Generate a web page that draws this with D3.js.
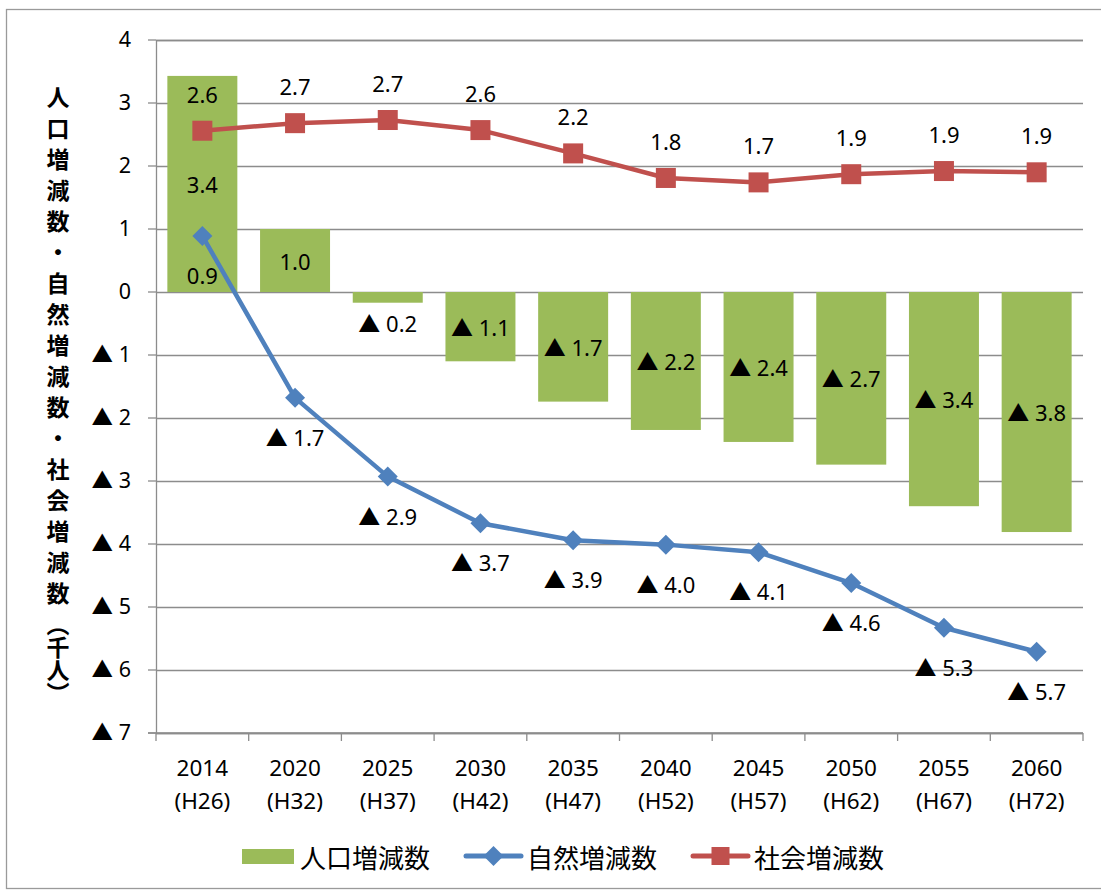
<!DOCTYPE html>
<html>
<head>
<meta charset="utf-8">
<script src="https://cdn.jsdelivr.net/npm/d3@7"></script>
<style>
  body { margin: 0; background: #fff; }
  svg text { font-family: "Noto Sans", "Noto Sans CJK JP", sans-serif; fill: #000; }
  .jp { font-family: "Noto Sans CJK JP", sans-serif; }
</style>
</head>
<body>
<div id="chart"></div>
<script>
// years and era labels on the x axis
const years = ["2014", "2020", "2025", "2030", "2035", "2040", "2045", "2050", "2055", "2060"];
const eras = ["(H26)", "(H32)", "(H37)", "(H42)", "(H47)", "(H52)", "(H57)", "(H62)", "(H67)", "(H72)"];

// 人口増減数 (bars), 自然増減数 (blue), 社会増減数 (red), thousand people
const popChange = [3.43, 1.0, -0.17, -1.1, -1.74, -2.19, -2.38, -2.74, -3.4, -3.81];
const naturalChange = [0.89, -1.68, -2.93, -3.67, -3.94, -4.01, -4.13, -4.62, -5.33, -5.71];
const socialChange = [2.56, 2.68, 2.73, 2.57, 2.2, 1.81, 1.74, 1.87, 1.92, 1.9];

const yTicks = [4, 3, 2, 1, 0, -1, -2, -3, -4, -5, -6, -7];
const yTitle = ["人口増減数・自然増減数・社会増減数", "（千人）"];
const legendNames = ["人口増減数", "自然増減数", "社会増減数"];

const width = 1101, height = 890;
const margin = ({top: 40, right: 18, bottom: 157, left: 156});

const green = "#9BBB59", blue = "#4F81BD", red = "#C0504D", grid = "#8C8C8C";

const fmt = v => (v < 0 ? "▲ " : "") + Math.abs(v).toFixed(1);

const svg = d3.select("#chart")
    .append("svg")
    .attr("width", width)
    .attr("height", height);

// chart frame
svg.append("rect")
    .attr("x", 6.5).attr("y", 9.5)
    .attr("width", width + 10).attr("height", height - 11)
    .attr("fill", "none")
    .attr("stroke", "#9a9a9a")
    .attr("stroke-width", 1.3);

const x = d3.scaleBand()
    .domain(years)
    .range([margin.left, width - margin.right])
    .paddingInner(0.245)
    .paddingOuter(0.1225);

const xc = d3.scalePoint()
    .domain(years)
    .range([margin.left, width - margin.right])
    .padding(0.5);

const y = d3.scaleLinear()
    .domain([-7, 4])
    .range([height - margin.bottom, margin.top]);

// gridlines + y axis
svg.append("g")
    .attr("transform", `translate(${margin.left},0)`)
    .call(d3.axisLeft(y)
        .tickValues(yTicks)
        .tickSize(-(width - margin.left - margin.right))
        .tickFormat(d => d < 0 ? "▲ " + Math.abs(d) : d))
    .call(g => g.select(".domain").attr("stroke", grid).attr("stroke-width", 1.3))
    .call(g => g.selectAll(".tick line").attr("stroke", grid).attr("stroke-width", 1.3))
    .call(g => g.selectAll(".tick text")
        .attr("x", -25)
        .attr("font-size", 21.5)
        .attr("fill", "#000"));

// little outer ticks to the left of y axis
svg.append("g")
    .selectAll("line")
    .data(yTicks)
    .join("line")
        .attr("x1", margin.left - 8).attr("x2", margin.left)
        .attr("y1", d => y(d)).attr("y2", d => y(d))
        .attr("stroke", grid).attr("stroke-width", 1.3);

// x axis line + category boundary ticks
const step = (width - margin.left - margin.right) / years.length;
svg.append("line")
    .attr("x1", margin.left - 8).attr("x2", width - margin.right)
    .attr("y1", y(-7)).attr("y2", y(-7))
    .attr("stroke", grid).attr("stroke-width", 1.3);
svg.append("g")
    .selectAll("line")
    .data(d3.range(years.length + 1))
    .join("line")
        .attr("x1", i => margin.left + i * step).attr("x2", i => margin.left + i * step)
        .attr("y1", y(-7)).attr("y2", y(-7) + 8)
        .attr("stroke", grid).attr("stroke-width", 1.3);

// x labels
const xl = svg.append("g")
    .selectAll("text")
    .data(years)
    .join("text")
        .attr("text-anchor", "middle")
        .attr("font-size", 22.5)
        .attr("x", d => xc(d));
xl.append("tspan").attr("x", d => xc(d)).attr("y", y(-7) + 43).text(d => d);
xl.append("tspan").attr("x", d => xc(d)).attr("y", y(-7) + 76).text((d, i) => eras[i]);

// bars
svg.append("g")
    .selectAll("rect")
    .data(popChange)
    .join("rect")
        .attr("fill", green)
        .attr("x", (d, i) => x(years[i]))
        .attr("width", x.bandwidth())
        .attr("y", d => y(Math.max(0, d)))
        .attr("height", d => Math.abs(y(d) - y(0)));

// bar labels (centered, pushed below when bar is too short)
svg.append("g")
    .selectAll("text")
    .data(popChange)
    .join("text")
        .attr("text-anchor", "middle")
        .attr("dominant-baseline", "central")
        .attr("font-size", 22)
        .attr("x", (d, i) => xc(years[i]))
        .attr("y", d => {
            const mid = (y(d) + y(0)) / 2;
            return Math.abs(y(d) - y(0)) < 22 ? y(Math.min(0, d)) + 20 : mid;
        })
        .text(fmt);

// lines
const line = d3.line()
    .x((d, i) => xc(years[i]))
    .y(d => y(d));

svg.append("path")
    .datum(naturalChange)
    .attr("fill", "none")
    .attr("stroke", blue)
    .attr("stroke-width", 4.5)
    .attr("stroke-linejoin", "round")
    .attr("d", line);

svg.append("path")
    .datum(socialChange)
    .attr("fill", "none")
    .attr("stroke", red)
    .attr("stroke-width", 4.5)
    .attr("stroke-linejoin", "round")
    .attr("d", line);

// markers
const diamond = d3.symbol().type(d3.symbolSquare).size(200);
svg.append("g")
    .selectAll("path")
    .data(naturalChange)
    .join("path")
        .attr("fill", blue)
        .attr("d", diamond)
        .attr("transform", (d, i) => `translate(${xc(years[i])},${y(d)}) rotate(45)`);

svg.append("g")
    .selectAll("rect")
    .data(socialChange)
    .join("rect")
        .attr("fill", red)
        .attr("x", (d, i) => xc(years[i]) - 10)
        .attr("y", d => y(d) - 10)
        .attr("width", 20).attr("height", 20);

// line labels
svg.append("g")
    .selectAll("text")
    .data(naturalChange)
    .join("text")
        .attr("text-anchor", "middle")
        .attr("dominant-baseline", "central")
        .attr("font-size", 22)
        .attr("x", (d, i) => xc(years[i]))
        .attr("y", d => y(d) + 39)
        .text(fmt);

svg.append("g")
    .selectAll("text")
    .data(socialChange)
    .join("text")
        .attr("text-anchor", "middle")
        .attr("dominant-baseline", "central")
        .attr("font-size", 22)
        .attr("x", (d, i) => xc(years[i]))
        .attr("y", d => y(d) - 37)
        .text(fmt);

// y axis title, vertical writing
const title = svg.append("text")
    .attr("class", "jp")
    .attr("x", 58)
    .attr("y", 86)
    .attr("text-anchor", "start")
    .attr("font-size", 23)
    .attr("font-weight", "bold")
    .style("writing-mode", "vertical-rl");
title.append("tspan").style("letter-spacing", "8px").text(yTitle[0]);
title.append("tspan").style("letter-spacing", "0px").text(yTitle[1]);

// legend
const legend = svg.append("g").attr("transform", "translate(0,856)");
const lx = [242, 466, 693];

legend.append("rect")
    .attr("x", lx[0]).attr("y", -7)
    .attr("width", 52).attr("height", 15)
    .attr("fill", green);

legend.append("line")
    .attr("x1", lx[1]).attr("x2", lx[1] + 55)
    .attr("stroke", blue).attr("stroke-width", 5).attr("stroke-linecap", "round");
legend.append("path")
    .attr("d", diamond)
    .attr("fill", blue)
    .attr("transform", `translate(${lx[1] + 27.5},0) rotate(45)`);

legend.append("line")
    .attr("x1", lx[2]).attr("x2", lx[2] + 55)
    .attr("stroke", red).attr("stroke-width", 5).attr("stroke-linecap", "round");
legend.append("rect")
    .attr("x", lx[2] + 27.5 - 9).attr("y", -9)
    .attr("width", 18).attr("height", 18)
    .attr("fill", red);

legend.selectAll("text.lg")
    .data(legendNames)
    .join("text")
        .attr("class", "lg jp")
        .attr("x", (d, i) => lx[i] + (i === 0 ? 58 : 61))
        .attr("dominant-baseline", "central")
        .attr("font-size", 26)
        .text(d => d);
</script>
</body>
</html>
